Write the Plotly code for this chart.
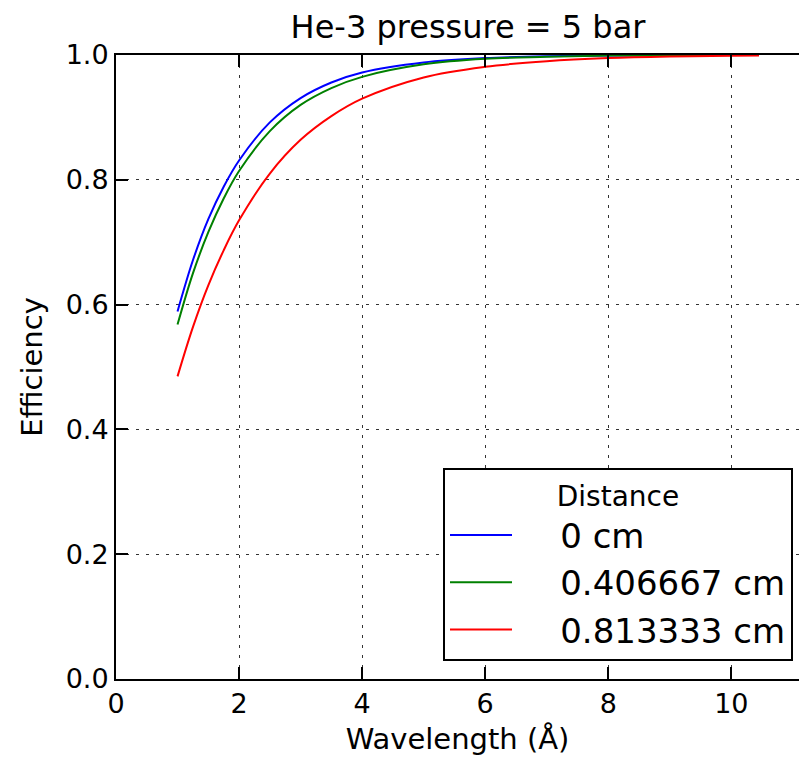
import plotly.graph_objects as go

# wavelength (Angstrom) and efficiency
wavelength = [1.0, 1.25, 1.5, 1.75, 2.0, 2.5, 3.0, 3.5, 4.0, 5.0, 6.0, 7.0, 8.0, 9.0, 10.0, 10.45]
eff_0cm = [0.589, 0.671, 0.737, 0.789, 0.831, 0.892, 0.931, 0.956, 0.972, 0.988, 0.995, 0.998, 0.999, 1.0, 1.0, 1.0]
eff_0407cm = [0.568, 0.650, 0.716, 0.770, 0.814, 0.878, 0.920, 0.947, 0.965, 0.985, 0.994, 0.997, 0.999, 0.9995, 1.0, 1.0]
eff_0813cm = [0.485, 0.564, 0.631, 0.687, 0.735, 0.810, 0.864, 0.902, 0.930, 0.964, 0.981, 0.990, 0.995, 0.9975, 0.9987, 0.999]

series_names = ['0 cm', '0.406667 cm', '0.813333 cm']
series_colors = ['#0000ff', '#008000', '#ff0000']

FONT = 'DejaVu Sans'
W, H = 791, 748  # page adds an 8px body margin
PAD = '\u00a0' * 4  # gap between legend line and label

fig = go.Figure()
for name, ys, col in zip(series_names, [eff_0cm, eff_0407cm, eff_0813cm], series_colors):
    fig.add_trace(go.Scatter(
        x=wavelength, y=ys, mode='lines', name=PAD + name,
        line=dict(color=col, width=2, shape='spline'),
    ))

fig.update_layout(
    width=W, height=H,
    margin=dict(l=108, r=0, t=47, b=77),
    paper_bgcolor='white', plot_bgcolor='white',
    font=dict(family=FONT, color='black'),
    title=dict(text='He-3 pressure = 5 bar', x=460/W, xref='container', xanchor='center',
               y=1 - 19/H, yanchor='middle', font=dict(size=32, family=FONT)),
    legend=dict(
        x=(443-116)/683, y=(679-661)/624, xanchor='left', yanchor='bottom',
        bordercolor='black', borderwidth=2, bgcolor='white',
        font=dict(size=34, family=FONT),
        title=dict(text='Distance', side='top center', font=dict(size=28, family=FONT)),
        itemwidth=62,
    ),
)

grid = dict(showgrid=True, gridcolor='#333333', griddash='3px,7px', gridwidth=1)

fig.update_xaxes(
    range=[0, 11.1], tickvals=[0, 2, 4, 6, 8, 10], ticks='inside', ticklen=12, tickwidth=1.5,
    tickcolor='black', showline=True, linecolor='black', linewidth=2, mirror='ticks',
    zeroline=False, tickfont=dict(size=27, family=FONT),
    title=dict(text='Wavelength (Å)', font=dict(size=29, family=FONT), standoff=12),
    **grid,
)
fig.update_yaxes(
    range=[0, 1.0], tickvals=[0, 0.2, 0.4, 0.6, 0.8, 1.0], tickformat='.1f',
    ticks='inside', ticklen=12, tickwidth=1.5, tickcolor='black',
    showline=True, linecolor='black', linewidth=2, mirror=False,
    zeroline=False, tickfont=dict(size=27, family=FONT),
    title=dict(text='Efficiency', font=dict(size=29, family=FONT), standoff=14),
    **grid,
)

fig.write_html("out.html")
